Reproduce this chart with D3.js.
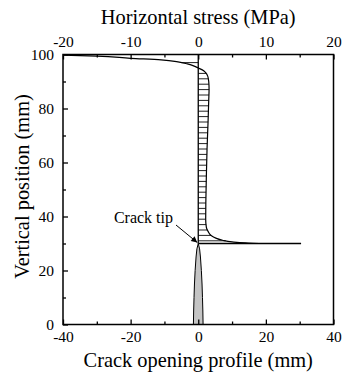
<!DOCTYPE html>
<html>
<head>
<meta charset="utf-8">
<script src="https://cdn.jsdelivr.net/npm/d3@7"></script>
<style>
  html, body { margin: 0; padding: 0; background: #fff; }
  svg { display: block; }
  svg text { font-family: "Liberation Serif", Tinos, "Times New Roman", Times, serif; fill: #000; }
</style>
</head>
<body>
<svg id="chart" width="343" height="378"></svg>
<script>
// Horizontal stress along the crack plane: vertical position (mm) and stress (MPa)
const stressY = [99.8, 99.4, 98.6, 98.0, 97.3, 96.5, 95.7, 95.0, 94.3, 93.3, 92.0, 90.0, 87.0, 83.0, 75.0, 65.0, 55.0, 45.0, 39.0, 36.0, 34.5, 33.0, 32.0, 31.2, 30.6, 30.2, 30.0, 30.0];
const stressV = [-20, -15, -10, -5.5, -3, -1.6, -0.6, 0, 0.6, 1.1, 1.4, 1.55, 1.6, 1.55, 1.45, 1.3, 1.2, 1.12, 1.1, 1.2, 1.45, 1.9, 2.6, 3.6, 5.0, 7.0, 9.0, 15.2];

// Crack opening profile: vertical position (mm) and half opening (mm)
const crackY = [0, 5, 10, 15, 20, 25, 28, 30];
const crackHalf = [1.43, 1.36, 1.25, 1.12, 0.92, 0.65, 0.4, 0];

// Heights of the hatch lines that shade the stress profile (mm)
const hatchY = d3.range(31, 98, 2);

// Tick values
const bottomTicks = [-40, -20, 0, 20, 40];
const bottomMinor = [-30, -10, 10, 30];
const topTicks = [-20, -10, 0, 10, 20];
const topMinor = [-15, -5, 5, 15];
const leftTicks = [0, 20, 40, 60, 80, 100];
const leftMinor = [10, 30, 50, 70, 90];

const tipY = 30;
const SERIF = '"Liberation Serif", Tinos, "Times New Roman", Times, serif';
const plain = d => String(d);   // hyphen-minus, as typeset in the figure

const svg = d3.select("#chart");
const L = 63, R = 333.5, T = 54.5, B = 324.5;

const xOpen = d3.scaleLinear().domain([-40, 40]).range([L, R]);
const xStress = d3.scaleLinear().domain([-20, 20]).range([L, R]);
const y = d3.scaleLinear().domain([0, 100]).range([B, T]);

// Crack opening (filled grey wedge)
const crackPts = crackY.map((v, i) => [crackHalf[i], v]);
const crackPoly = crackPts.map(p => [xOpen(-p[0]), y(p[1])])
  .concat(crackPts.slice().reverse().map(p => [xOpen(p[0]), y(p[1])]));
svg.append("path")
  .attr("d", d3.line().curve(d3.curveLinear)(crackPoly) + "Z")
  .attr("fill", "#c4c4c4")
  .attr("stroke", "#000")
  .attr("stroke-width", 1);

// Hatching between zero stress and the stress curve
const stressPts = stressY.map((v, i) => ({ y: v, s: stressV[i] }));
function stressAt(h) {
  for (let i = 0; i < stressPts.length - 1; i++) {
    const a = stressPts[i], b = stressPts[i + 1];
    if (h <= a.y && h >= b.y && a.y !== b.y) {
      const t = (h - a.y) / (b.y - a.y);
      return a.s + t * (b.s - a.s);
    }
  }
  return 0;
}
svg.append("g").selectAll("line")
  .data(hatchY)
  .join("line")
  .attr("x1", xStress(0))
  .attr("x2", d => xStress(stressAt(d)))
  .attr("y1", d => y(d))
  .attr("y2", d => y(d))
  .attr("stroke", "#222")
  .attr("stroke-width", 1);

// Zero-stress reference line
svg.append("line")
  .attr("x1", xStress(0)).attr("x2", xStress(0))
  .attr("y1", y(tipY)).attr("y2", y(100))
  .attr("stroke", "#000").attr("stroke-width", 1.3);

// Stress curve
svg.append("path")
  .datum(stressPts)
  .attr("d", d3.line().x(d => xStress(d.s)).y(d => y(d.y)).curve(d3.curveMonotoneY))
  .attr("fill", "none")
  .attr("stroke", "#000")
  .attr("stroke-width", 1.2);

// Base line of the stress profile at the crack tip
svg.append("line")
  .attr("x1", xStress(0)).attr("x2", xStress(stressV[stressV.length - 1]))
  .attr("y1", y(tipY)).attr("y2", y(tipY))
  .attr("stroke", "#000").attr("stroke-width", 1.3);

// Frame
svg.append("rect")
  .attr("x", L).attr("y", T).attr("width", R - L).attr("height", B - T)
  .attr("fill", "none").attr("stroke", "#000").attr("stroke-width", 1.5);

// Axes with inward ticks
function styleAxis(g) {
  g.attr("font-family", SERIF).attr("font-size", 15.5);
  g.select(".domain").remove();
  g.selectAll("line").attr("stroke", "#000").attr("stroke-width", 1.3);
  g.selectAll("text").attr("fill", "#000");
}
svg.append("g").attr("transform", `translate(0,${B})`)
  .call(d3.axisBottom(xOpen).tickValues(bottomTicks).tickFormat(plain).tickSizeInner(-5).tickPadding(6))
  .call(styleAxis);
svg.append("g").attr("transform", `translate(0,${B})`)
  .call(d3.axisBottom(xOpen).tickValues(bottomMinor).tickFormat("").tickSizeInner(-3))
  .call(styleAxis);
svg.append("g").attr("transform", `translate(0,${T})`)
  .call(d3.axisTop(xStress).tickValues(topTicks).tickFormat(plain).tickSizeInner(-5).tickPadding(8))
  .call(styleAxis);
svg.append("g").attr("transform", `translate(0,${T})`)
  .call(d3.axisTop(xStress).tickValues(topMinor).tickFormat("").tickSizeInner(-3))
  .call(styleAxis);
svg.append("g").attr("transform", `translate(${L},0)`)
  .call(d3.axisLeft(y).tickValues(leftTicks).tickFormat(plain).tickSizeInner(-5).tickPadding(9))
  .call(styleAxis);
svg.append("g").attr("transform", `translate(${L},0)`)
  .call(d3.axisLeft(y).tickValues(leftMinor).tickFormat("").tickSizeInner(-3))
  .call(styleAxis);

// Axis titles
svg.append("text")
  .attr("x", (L + R) / 2).attr("y", 24)
  .attr("text-anchor", "middle").attr("font-family", SERIF).attr("font-size", 20.4)
  .text("Horizontal stress (MPa)");
svg.append("text")
  .attr("x", (L + R) / 2).attr("y", 366.5)
  .attr("text-anchor", "middle").attr("font-family", SERIF).attr("font-size", 20.4)
  .text("Crack opening profile (mm)");
svg.append("text")
  .attr("transform", `translate(29,186.5) rotate(-90)`)
  .attr("text-anchor", "middle").attr("font-family", SERIF).attr("font-size", 20.4)
  .text("Vertical position (mm)");

// Crack tip annotation
svg.append("defs").append("marker")
  .attr("id", "arrow").attr("viewBox", "0 0 10 10")
  .attr("refX", 10).attr("refY", 5)
  .attr("markerWidth", 7).attr("markerHeight", 6)
  .attr("orient", "auto")
  .append("path").attr("d", "M0,0 L10,5 L0,10 Z").attr("fill", "#000");
svg.append("line")
  .attr("x1", 176).attr("y1", 225)
  .attr("x2", xOpen(0) - 1).attr("y2", y(tipY) - 1)
  .attr("stroke", "#000").attr("stroke-width", 1)
  .attr("marker-end", "url(#arrow)");
svg.append("text")
  .attr("x", 173).attr("y", 222.5)
  .attr("text-anchor", "end").attr("font-family", SERIF).attr("font-size", 16)
  .text("Crack tip");
</script>
</body>
</html>
